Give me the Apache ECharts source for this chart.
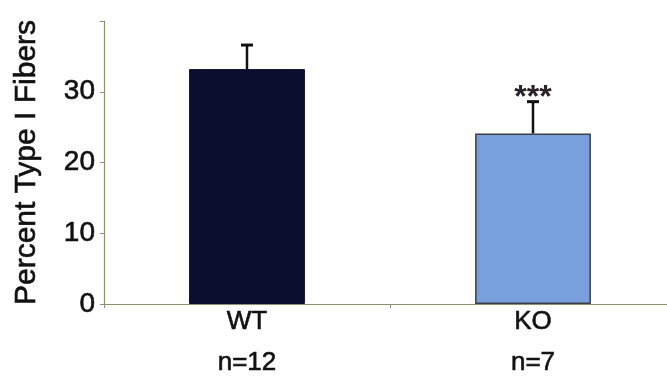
<!DOCTYPE html>
<html>
<head>
<meta charset="utf-8">
<script src="https://cdn.jsdelivr.net/npm/echarts@6/dist/echarts.min.js"></script>
<style>html,body{margin:0;padding:0;background:#fff;}#c{width:667px;height:391px;}</style>
</head>
<body>
<div id="c"></div>
<script>
const categories = ['WT', 'KO'];
const groupSizes = ['n=12', 'n=7'];
const means = [33.2, 24.1];
const errors = [3.4, 4.5];
const significance = ['', '***'];
const yMin = 0, yMax = 40, yInterval = 10;

const FONT = '"Liberation Sans", Arial, Helvetica, sans-serif';
const chart = echarts.init(document.getElementById('c'), null, {renderer: 'canvas'});

const barData = means.map((v, i) => ({
  value: v,
  itemStyle: i === 0
    ? {color: '#0b0d2e', borderColor: '#0b0d2e', borderWidth: 1}
    : {color: '#77a0dc', borderColor: '#3c3f4a', borderWidth: 1.5}
}));
const errData = means.map((v, i) => [i, v, errors[i], significance[i]]);
const thick = {textBorderColor: '#111', textBorderWidth: 0.6};

chart.setOption({
  backgroundColor: '#ffffff',
  animation: false,
  grid: {left: 104, top: 21, bottom: 87, width: 572, containLabel: false, outerBoundsMode: 'none'},
  xAxis: {
    type: 'category',
    data: categories.map((c, i) => c + '\n' + groupSizes[i]),
    axisLine: {lineStyle: {color: '#8f8f72', width: 1.2}},
    axisTick: {show: true, length: 4, lineStyle: {color: '#8f8f72'}},
    axisLabel: {
      margin: 4,
      formatter: function (v) { const p = v.split('\n'); return '{a|' + p[0] + '}\n{b|' + p[1] + '}'; },
      rich: {
        a: Object.assign({fontSize: 26, fontFamily: FONT, color: '#111', lineHeight: 28}, thick),
        b: Object.assign({fontSize: 26, fontFamily: FONT, color: '#111', lineHeight: 54}, thick)
      }
    }
  },
  yAxis: {
    type: 'value',
    min: yMin, max: yMax, interval: yInterval,
    name: 'Percent Type I Fibers',
    nameLocation: 'middle',
    nameRotate: 90,
    nameGap: 62,
    nameTextStyle: Object.assign({fontSize: 30, fontFamily: FONT, color: '#111'}, thick),
    axisLine: {show: true, lineStyle: {color: '#8f8f72', width: 1.2}},
    axisTick: {show: true, length: 4, lineStyle: {color: '#8f8f72'}},
    splitLine: {show: false},
    axisLabel: Object.assign({
      margin: 9,
      fontSize: 28, fontFamily: FONT, color: '#111',
      formatter: function (v) { return v === yMax ? '' : String(v); }
    }, thick)
  },
  series: [
    {
      type: 'bar',
      data: barData,
      barWidth: '40.5%',
      z: 2
    },
    {
      type: 'custom',
      z: 3,
      data: errData,
      renderItem: function (params, api) {
        const idx = api.value(0), m = api.value(1), e = api.value(2);
        const sig = significance[idx];
        const base = api.coord([idx, m]);
        const top = api.coord([idx, m + e]);
        const children = [
          {type: 'line', shape: {x1: base[0], y1: base[1], x2: top[0], y2: top[1]}, style: {stroke: '#111', lineWidth: 2.5}},
          {type: 'line', shape: {x1: top[0] - 6, y1: top[1], x2: top[0] + 6, y2: top[1]}, style: {stroke: '#111', lineWidth: 3}}
        ];
        if (sig) {
          children.push({type: 'text', style: {text: sig, x: top[0], y: top[1] - 3, fill: '#2a2228', font: 'bold 32px ' + FONT, align: 'center', verticalAlign: 'middle'}});
        }
        return {type: 'group', children: children};
      }
    }
  ]
});
</script>
</body>
</html>
